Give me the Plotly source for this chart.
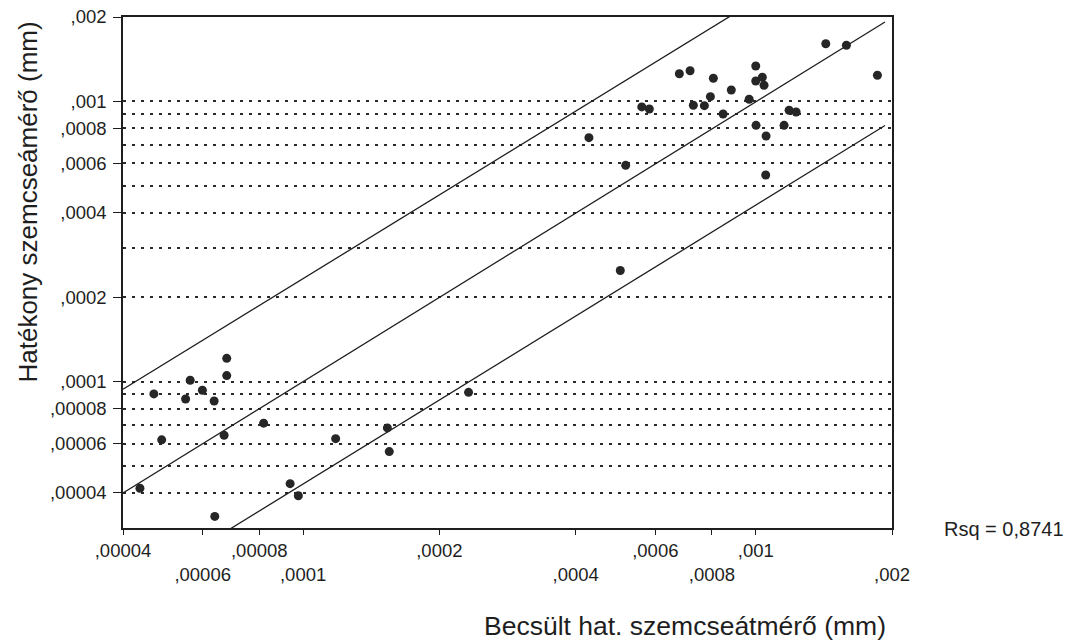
import plotly.graph_objects as go

# Estimated effective grain diameter (mm) -- x values
x_est = [4.36e-5, 4.68e-5, 4.87e-5, 5.50e-5, 5.63e-5, 5.99e-5, 6.36e-5, 6.38e-5, 6.69e-5,
         6.78e-5, 6.78e-5, 8.18e-5, 9.36e-5, 9.76e-5, 1.18e-4, 1.535e-4, 1.55e-4, 2.32e-4,
         4.28e-4, 5.16e-4, 5.02e-4, 5.60e-4, 5.82e-4, 6.78e-4, 7.16e-4, 7.28e-4, 7.70e-4,
         7.94e-4, 8.06e-4, 8.47e-4, 8.83e-4, 9.67e-4, 1.000e-3, 1.000e-3, 1.034e-3, 1.043e-3,
         1.0015e-3, 1.054e-3, 1.052e-3, 1.155e-3, 1.185e-3, 1.228e-3, 1.428e-3, 1.586e-3, 1.857e-3]
# Effective grain diameter (mm) -- y values
y_eff = [4.16e-5, 9.03e-5, 6.19e-5, 8.66e-5, 1.010e-4, 9.31e-5, 8.52e-5, 3.30e-5, 6.43e-5,
         1.21e-4, 1.05e-4, 7.10e-5, 4.32e-5, 3.91e-5, 6.25e-5, 6.83e-5, 5.62e-5, 9.15e-5,
         7.42e-4, 5.91e-4, 2.49e-4, 9.55e-4, 9.39e-4, 1.255e-3, 1.286e-3, 9.68e-4, 9.65e-4,
         1.039e-3, 1.209e-3, 9.01e-4, 1.098e-3, 1.017e-3, 1.337e-3, 1.182e-3, 1.219e-3, 1.141e-3,
         8.21e-4, 7.52e-4, 5.46e-4, 8.21e-4, 9.29e-4, 9.16e-4, 1.606e-3, 1.585e-3, 1.239e-3]

# Reference lines (endpoints)
ref_x = [0.00004, 0.00193]
upper_y = [0.0000938, 0.0044]
middle_y = [0.00004, 0.00192]
lower_y = [0.0000173, 0.00082]

x_tickvals = [0.00004, 0.00006, 0.00008, 0.0001, 0.0002, 0.0004, 0.0006, 0.0008, 0.001, 0.002]
x_ticklabels = [",00004", ",00006", ",00008", ",0001", ",0002", ",0004", ",0006", ",0008", ",001", ",002"]
y_tickvals = [0.00004, 0.00006, 0.00008, 0.0001, 0.0002, 0.0004, 0.0006, 0.0008, 0.001, 0.002]
y_ticklabels = [",00004", ",00006", ",00008", ",0001", ",0002", ",0004", ",0006", ",0008", ",001", ",002"]
y_minor_grid = [0.00005, 0.00007, 0.00009, 0.0003, 0.0005, 0.0007, 0.0009]

x_title = "Becsült hat. szemcseátmérő (mm)"
y_title = "Hatékony szemcseámérő (mm)"
rsq_text = "Rsq = 0,8741"

FONT = "Liberation Sans, Arial, Helvetica, sans-serif"
INK = "#1e1e1e"
TICK_SIZE = 18.5

# staggered x tick labels (every second label on a second row)
x_ticktext = [lab if i % 2 == 0 else "\u00a0<br>" + lab for i, lab in enumerate(x_ticklabels)]

fig = go.Figure()
for ly in (upper_y, middle_y, lower_y):
    fig.add_trace(go.Scatter(x=ref_x, y=ly, mode="lines",
                             line=dict(color=INK, width=1.3), hoverinfo="skip"))
fig.add_trace(go.Scatter(x=x_est, y=y_eff, mode="markers",
                         marker=dict(color="#262626", size=9, line=dict(width=0))))

fig.update_layout(
    width=1067, height=642,
    margin=dict(l=123, r=175, t=17, b=114, autoexpand=False),
    paper_bgcolor="white", plot_bgcolor="white",
    showlegend=False,
    font=dict(family=FONT, color=INK, size=TICK_SIZE),
)
fig.update_xaxes(
    type="log", range=[-4.39794, -2.69897], automargin=False,
    tickmode="array", tickvals=x_tickvals, ticktext=x_ticktext, tickangle=0,
    ticks="outside", ticklen=5, tickwidth=1.3, tickcolor=INK,
    showline=True, linecolor=INK, linewidth=1.5, mirror=True,
    showgrid=False, zeroline=False,
    tickfont=dict(family=FONT, size=TICK_SIZE, color=INK),
)
fig.update_yaxes(
    type="log", range=[-4.5229, -2.69897], automargin=False,
    tickmode="array", tickvals=y_tickvals, ticktext=y_ticklabels,
    ticks="outside", ticklen=8, tickwidth=1.3, tickcolor=INK,
    ticklabelstandoff=3,
    showline=True, linecolor=INK, linewidth=1.5, mirror=True,
    showgrid=True, gridcolor="#2a2a2a", gridwidth=1.5, griddash="3px,6px",
    minor=dict(tickmode="array", tickvals=y_minor_grid, ticks="",
               showgrid=True, gridcolor="#2a2a2a", gridwidth=1.5, griddash="3px,6px"),
    zeroline=False,
    tickfont=dict(family=FONT, size=TICK_SIZE, color=INK),
)

fig.add_annotation(text=y_title, textangle=-90, xref="paper", yref="paper",
                   x=-0.1235, y=0.637, xanchor="center", yanchor="middle",
                   showarrow=False, font=dict(family=FONT, size=26, color=INK))
fig.add_annotation(text=x_title, xref="paper", yref="paper",
                   x=0.9948, y=-0.1918, xanchor="right", yanchor="middle",
                   showarrow=False, font=dict(family=FONT, size=26.5, color=INK))
fig.add_annotation(text=rsq_text, xref="paper", yref="paper",
                   x=1.0650, y=-0.002, xanchor="left", yanchor="middle",
                   showarrow=False, font=dict(family=FONT, size=20, color=INK))

# remove the browser's default 8px page margin so the figure sits at the page origin
fig.write_html("out.html", config={"displayModeBar": False},
               post_script="document.body.style.margin='0px';")
